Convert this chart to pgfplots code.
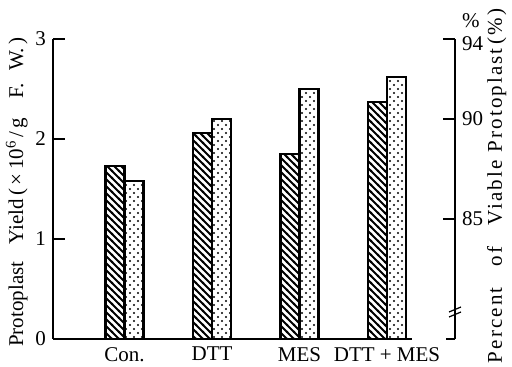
\documentclass[border=0pt]{standalone}
\usepackage{pgfplots}
\pgfplotsset{compat=1.18}
\usetikzlibrary{patterns}
\usepackage{fontspec}
\setmainfont{Liberation Serif}
\newfontfamily\spaced[LetterSpace=10]{Liberation Serif}

\pgfdeclarepatternformonly{sparsedots}{\pgfpoint{-1pt}{-1pt}}{\pgfpoint{9pt}{9pt}}{\pgfpoint{8pt}{8pt}}{%
 \pgfpathcircle{\pgfpoint{2pt}{2pt}}{1.1pt}%
 \pgfpathcircle{\pgfpoint{6pt}{6pt}}{1.1pt}%
 \pgfusepath{fill}}
\pgfdeclarepatternformonly{hatchnw}{\pgfpoint{-1pt}{-1pt}}{\pgfpoint{8pt}{8pt}}{\pgfpoint{7pt}{7pt}}{%
 \pgfsetlinewidth{1.8pt}%
 \pgfpathmoveto{\pgfpoint{-0.5pt}{7.5pt}}\pgfpathlineto{\pgfpoint{7.5pt}{-0.5pt}}%
 \pgfpathmoveto{\pgfpoint{-0.5pt}{0.5pt}}\pgfpathlineto{\pgfpoint{0.5pt}{-0.5pt}}%
 \pgfpathmoveto{\pgfpoint{6.5pt}{7.5pt}}\pgfpathlineto{\pgfpoint{7.5pt}{6.5pt}}%
 \pgfusepath{stroke}}

\begin{document}
\fontsize{21}{25}\selectfont
\begin{tikzpicture}
\begin{axis}[name=ax1, scale only axis, width=402pt, height=300pt,
 xmin=-0.817, xmax=3.777, ymin=0, ymax=3,
 axis line style={draw=none},
 xtick={0,1,2,3}, xticklabels={Con.,DTT,MES,DTT + MES}, xtick style={draw=none}, xtick pos=bottom,
 xticklabel style={yshift=11pt},
 ytick={0,1,2,3}, ytick pos=left, ytick align=inside, major tick length=12pt,
 ytick style={line width=1.3pt, black},
 ybar, bar width=19pt, bar shift=-9.5pt,
 /pgf/number format/assume math mode=true,
 ylabel={Protoplast\hspace{0.8em}Yield\,(\,×\,10\textsuperscript{6}\,/\,g\hspace{0.9em}F.\hspace{0.6em}W.\,)},
 ylabel style={at={(axis description cs:-0.09,0.49)}, anchor=center},
]
\addplot[draw=black, line width=2.4pt, pattern=hatchnw] coordinates {(0,1.73) (1,2.06) (2,1.85) (3,2.37)};
\end{axis}
\begin{axis}[name=ax2, at={(ax1.south west)}, anchor=south west, scale only axis, width=402pt, height=300pt,
 xmin=-0.817, xmax=3.777, ymin=79, ymax=94,
 axis line style={draw=none}, xtick=\empty,
 ytick={85,90,94}, yticklabels={85,90,\raisebox{-12pt}[0pt][0pt]{94}},
 ytick pos=right, yticklabel pos=right, ytick align=inside, major tick length=12pt,
 ytick style={line width=1.3pt, black},
 ybar, bar width=19pt, bar shift=9.5pt,
 ylabel={\spaced Percent\hspace{1em}of\hspace{1em}Viable\hspace{0.4em}Protoplast\,(\%)},
 ylabel style={at={(axis description cs:1.104,0.51)}, anchor=center},
]
\addplot[draw=black, line width=2.4pt, pattern=sparsedots] coordinates {(0,86.9) (1,90.0) (2,91.5) (3,92.1)};
\end{axis}
\draw[line width=1.3pt] (ax1.south west) -- (ax1.north west);
\draw[line width=1.3pt] (ax1.south west) -- ([xshift=359pt]ax1.south west);
\draw[line width=1.3pt] (ax2.south east) -- (ax2.north east);
\draw[line width=1.3pt] (ax2.south east) -- ++(-9pt,0);
\draw[line width=1.2pt] ([xshift=-6pt,yshift=22pt]ax2.south east) -- ++(12pt,5pt);
\draw[line width=1.2pt] ([xshift=-6pt,yshift=27pt]ax2.south east) -- ++(12pt,5pt);
\node[anchor=south west, inner sep=0pt] at ([xshift=7pt,yshift=11pt]ax2.north east) {\%};
\pgfresetboundingbox
\path ([xshift=-53pt,yshift=-28pt]ax1.south west) rectangle ([xshift=57pt,yshift=39pt]ax1.north east);
\end{tikzpicture}
\end{document}
